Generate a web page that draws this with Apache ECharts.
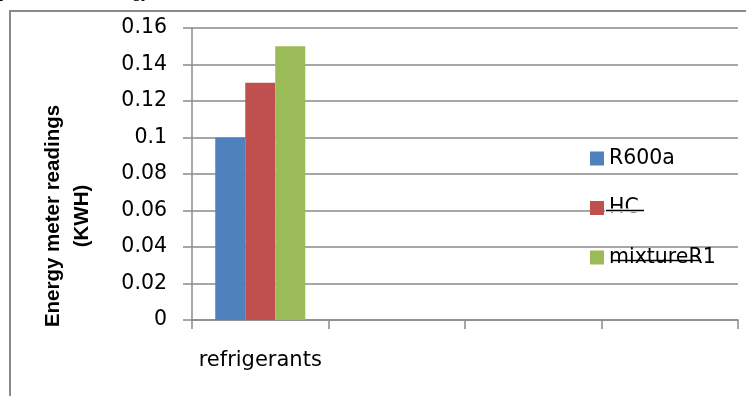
<!DOCTYPE html>
<html>
<head>
<meta charset="utf-8">
<script src="https://cdn.jsdelivr.net/npm/echarts@6/dist/echarts.min.js"></script>
<style>
  html, body { margin: 0; padding: 0; background: #fff; }
  #chart { width: 746px; height: 396px; }
</style>
</head>
<body>
<div id="chart"></div>
<script>
// Energy meter readings per refrigerant (kWh)
const categories = ['refrigerants', '', '', ''];
const seriesNames = ['R600a', 'HC', 'mixtureR1'];
const r600aValues = [0.1];
const hcValues = [0.13];
const mixtureValues = [0.15];
const yTicks = { min: 0, max: 0.16, interval: 0.02 };

const colors = ['#4F81BD', '#C0504D', '#9BBB59'];
const gray = '#8a8a8a';
const baseFont = 'DejaVu Sans';

const chart = echarts.init(document.getElementById('chart'), null, { renderer: 'canvas' });

const seriesData = [r600aValues, hcValues, mixtureValues];

chart.setOption({
  animation: false,
  backgroundColor: '#ffffff',
  color: colors,
  grid: { left: 192, right: 8, top: 28, bottom: 76, containLabel: false },
  legend: {
    orient: 'vertical',
    left: 590,
    top: 146.5,
    padding: 0,
    itemWidth: 14,
    itemHeight: 14,
    itemGap: 25.5,
    icon: 'rect',
    data: seriesNames,
    textStyle: { fontFamily: baseFont, fontSize: 20.5, color: '#000', lineHeight: 24 }
  },
  xAxis: {
    type: 'category',
    data: categories,
    boundaryGap: true,
    axisLine: { lineStyle: { color: gray, width: 1.5 } },
    axisTick: { show: true, length: 9, alignWithLabel: false, lineStyle: { color: gray, width: 1.5 } },
    axisLabel: { fontFamily: baseFont, fontSize: 21, color: '#000', margin: 30, interval: 0 },
    splitLine: { show: false }
  },
  yAxis: {
    type: 'value',
    min: yTicks.min,
    max: yTicks.max,
    interval: yTicks.interval,
    name: 'Energy meter readings\n(KWH)',
    nameLocation: 'middle',
    nameRotate: 90,
    nameGap: 95,
    nameTextStyle: {
      fontFamily: 'Liberation Sans', fontWeight: 'bold', fontSize: 20.5, color: '#000', lineHeight: 29,
      padding: [0, 84, 0, 0]
    },
    axisLine: { show: true, lineStyle: { color: gray, width: 1.5 } },
    axisTick: { show: true, length: 9, lineStyle: { color: gray, width: 1.5 } },
    axisLabel: {
      fontFamily: baseFont, fontSize: 20.5, color: '#000', margin: 25,
      formatter: v => String(Number(v.toFixed(2)))
    },
    splitLine: { show: true, lineStyle: { color: gray, width: 1.5 } }
  },
  series: seriesNames.map((name, i) => ({
    name: name,
    type: 'bar',
    data: seriesData[i],
    barWidth: 30,
    barGap: '0%',
    itemStyle: { color: colors[i] }
  }))
});

// Frame, clipped caption, and legend strike marks
const yHC = chart.convertToPixel({ yAxisIndex: 0 }, 0.06);
chart.setOption({
  graphic: [
    {
      type: 'polyline',
      shape: { points: [[10, 400], [10, 11], [750, 11]] },
      style: { stroke: gray, lineWidth: 2, fill: null },
      silent: true
    },
    {
      type: 'text',
      x: -62, y: -8,
      style: {
        text: 'Summary and so the Energy',
        fontFamily: 'Liberation Serif', fontStyle: 'italic', fontSize: 19,
        fill: '#000', textVerticalAlign: 'middle'
      },
      silent: true
    },
    {
      type: 'rect',
      shape: { x: 605, y: yHC - 2, width: 140, height: 4 },
      style: { fill: '#ffffff' },
      z: 5, silent: true
    },
    {
      type: 'line',
      shape: { x1: 606, y1: yHC, x2: 644, y2: yHC },
      style: { stroke: '#000', lineWidth: 1.5 },
      z: 6, silent: true
    },
    {
      type: 'line',
      shape: { x1: 612, y1: 260.5, x2: 701, y2: 260.5 },
      style: { stroke: '#000', lineWidth: 1.5 },
      z: 6, silent: true
    }
  ]
});
</script>
</body>
</html>
